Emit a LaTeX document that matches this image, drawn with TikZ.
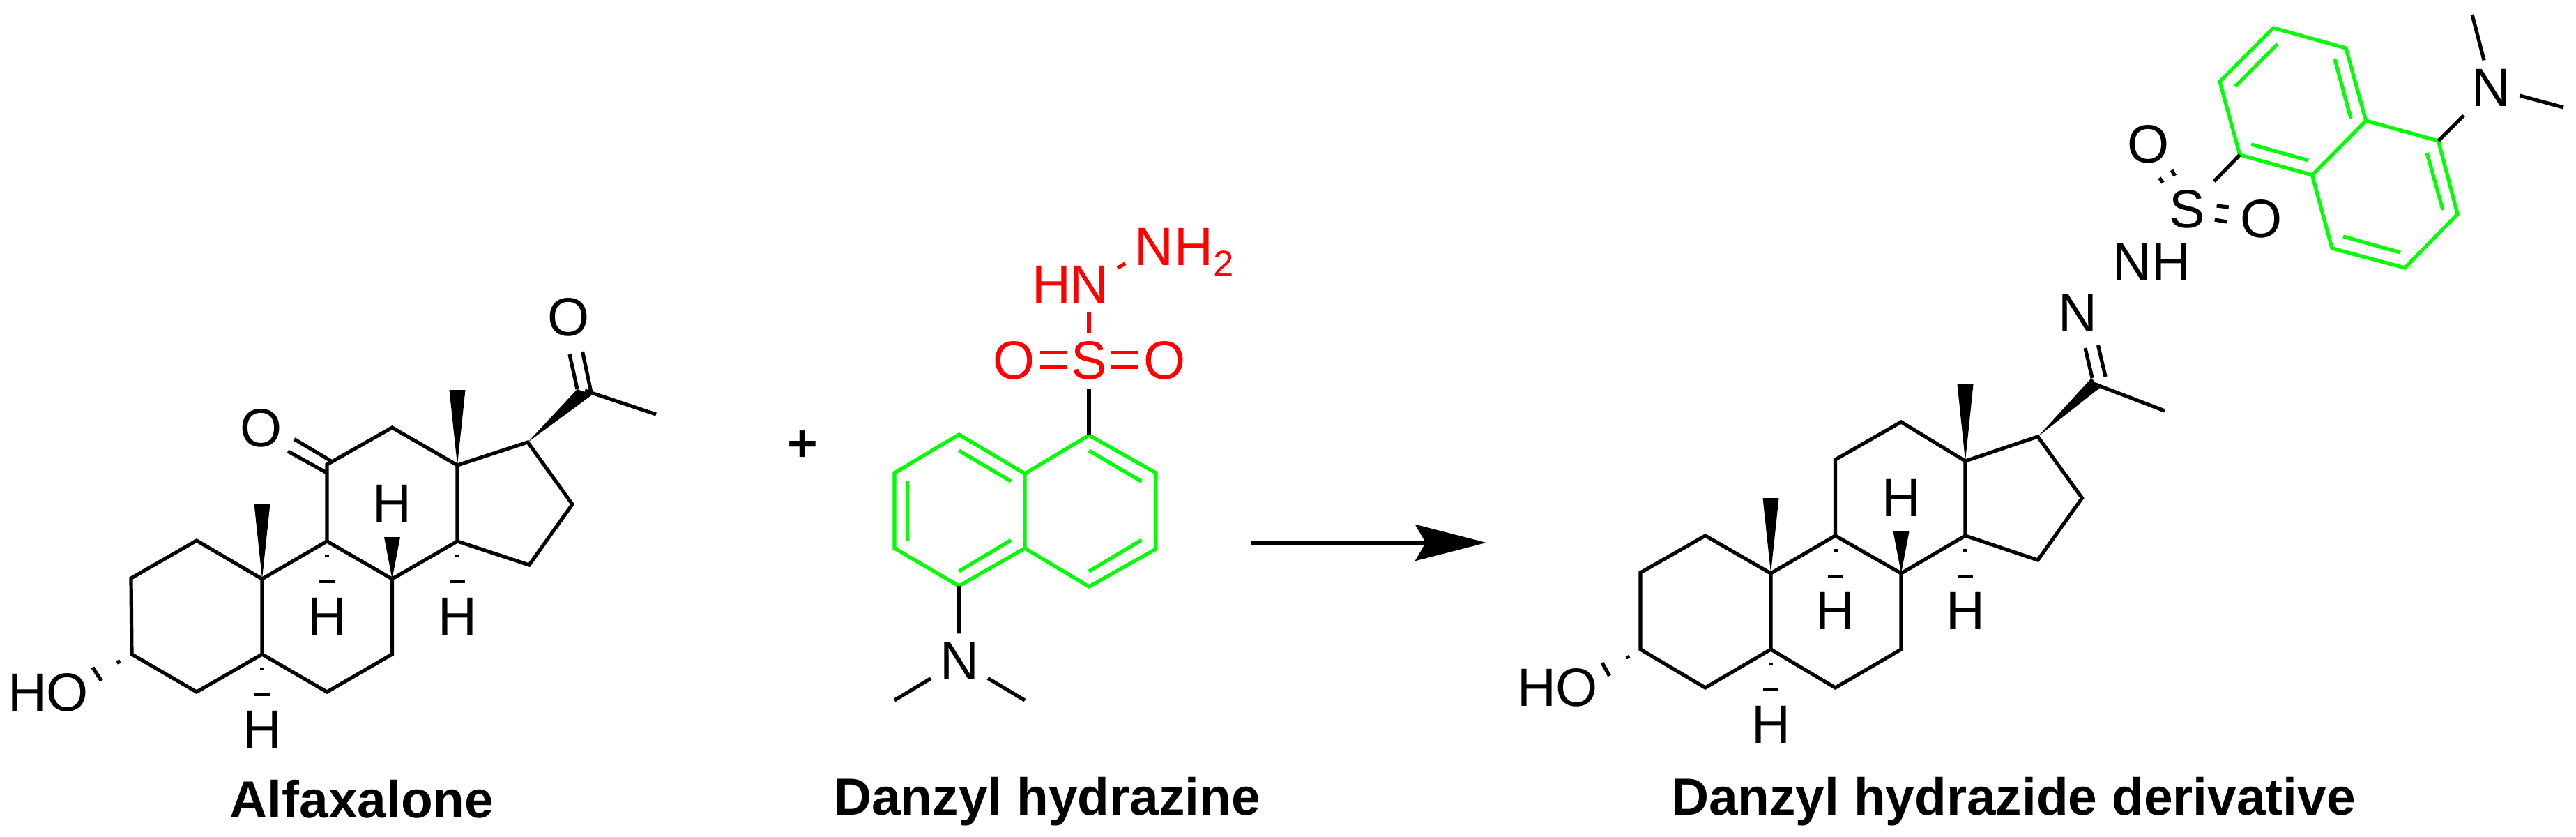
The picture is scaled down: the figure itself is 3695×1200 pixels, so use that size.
\documentclass[tikz,border=0pt]{standalone}
\usepackage{fontspec}
\setmainfont{Liberation Sans}
\usetikzlibrary{arrows.meta,calc}
\definecolor{ringgreen}{RGB}{0,255,0}
\newcommand{\atomfont}{\fontsize{22}{26}\selectfont}
\tikzset{
  bond/.style={line width=0.52mm,line join=miter},
  ringbond/.style={bond,draw=ringgreen},
  redbond/.style={bond,draw=red},
  hashbond/.style={line width=0.45mm},
  atom/.style={inner sep=3.5pt,font=\atomfont},
  redatom/.style={atom,text=red},
  atomtail/.style={inner sep=0pt,font=\atomfont},
  namelabel/.style={inner sep=0pt,anchor=base,font=\fontsize{21.3}{25}\selectfont\bfseries},
  reactionarrow/.style={line width=0.5mm,-{Stealth[length=10.2mm,width=5.2mm,inset=1.5mm]}}
}

\begin{document}
\begin{tikzpicture}[x=0.1mm,y=-0.1mm]
  \useasboundingbox (0,0) rectangle (3695,1200);
  % atoms, reference pixels
  \foreach \name/\px/\py in {
     a1/188/829, a2/282/775, a3/376/830, a4/376/938, a5/282/992, a6/189/938,
     b1/469/776, b2/562.5/830, b3/562.5/938, b4/469/992,
     c1/469/666, c2/562.5/613, c3/656/667, c4/656/776,
     d1/757/634, d2/821/723, d3/759/810, e1/839/560, e2/941/594,
     n1/1375.5/623, n2/1470/679, n3/1562/624, n4/1658/678, n5/1658/787,
     n6/1562/841, n7/1470/786, n8/1375.5/840, n9/1283/786, n10/1283/678,
     m1/1283/1004, m2/1470/1004,
     r1/2353/821, r2/2446/768, r3/2540/822, r4/2540/931, r5/2446/986, r6/2353/931,
     s1/2632.5/768, s2/2727/822, s3/2727/931, s4/2632.5/986,
     t1/2632.5/659, t2/2727/605, t3/2819/661, t4/2819/768,
     u1/2923/626, u2/2986.5/714, u3/2923/803, v1/3005.5/551, v2/3105/589,
     g1/3212.7/222, g2/3316.5/251, g3/3393.6/173, g4/3365/69, g5/3261/40,
     g6/3184/117, g7/3497.5/202, g8/3525/307, g9/3449.5/384, g10/3345/356,
     k1/3546/21, k2/3677/154,
     arrowstart/1794/778, arrowend/2132/778}
     \coordinate (\name) at (\px,\py);

  % labels
  \node[atom] (o1) at (375,614) {O};
  \node[atom] (o2) at (816,455) {O};
  \node[atom] (ho1) at (69,993) {HO};
  \node[atom] (ho2) at (2234,986) {HO};
  \node[redatom] (sa) at (1562,517) {S};
  \node[redatom] (oa) at (1455,517) {O};
  \node[redatom] (ob) at (1671,517) {O};
  \node[redatom] (na) at (1562,408) {N};
  \node[atomtail,text=red,anchor=base east,xshift=4.4pt] (ha) at (na.base west) {H};
  \node[redatom] (nb) at (1655,354) {N};
  \node[atomtail,text=red,anchor=base west,xshift=-3.5pt] (hb) at (nb.base east)
       {H\raisebox{-4.6pt}{\fontsize{15}{15}\selectfont 2}};
  \node[atom] (nc) at (1376,948) {N};
  \node[atom] (nd) at (2980,449) {N};
  \node[atom] (ne) at (3086.5,376) {NH};
  \node[atom] (sb) at (3137,300) {S};
  \node[atom] (oc) at (3082,207) {O};
  \node[atom] (od) at (3243.5,314) {O};
  \node[atom] (nf) at (3573.4,126) {N};

  % steroid skeletons
  \draw[bond] (a1) -- (a2) -- (a3) -- (a4) -- (a5) -- (a6) -- cycle;
  \draw[bond] (a3) -- (b1) -- (b2) -- (b3) -- (b4) -- (a4);
  \draw[bond] (b1) -- (c1) -- (c2) -- (c3) -- (c4) -- (b2);
  \draw[bond] (c3) -- (d1) -- (d2) -- (d3) -- (c4);
  \draw[bond] (e1) -- (e2);
  \draw[bond] (r1) -- (r2) -- (r3) -- (r4) -- (r5) -- (r6) -- cycle;
  \draw[bond] (r3) -- (s1) -- (s2) -- (s3) -- (s4) -- (r4);
  \draw[bond] (s1) -- (t1) -- (t2) -- (t3) -- (t4) -- (s2);
  \draw[bond] (t3) -- (u1) -- (u2) -- (u3) -- (t4);
  \draw[bond] (v1) -- (v2);

  % wedges
  \foreach \atom/\len in {a3/108,c3/108,b2/60,r3/108,t3/110,s2/60}
    \fill (\atom) -- ($(\atom)+(-11.5,-\len)$) -- ($(\atom)+(11.5,-\len)$) -- cycle;
  \fill (d1) -- (828,558) -- (849.5,566) -- cycle;
  \fill (u1) -- (3000,542) -- (3012,556) -- cycle;

  % ring hydrogens
  \foreach \atom/\hname in {a4/h1,b1/h2,c4/h3,r4/h4,s1/h5,t4/h6} {
    \draw[hashbond] ($(\atom)+(-3,21)$) -- ($(\atom)+(3,21)$);
    \draw[hashbond] ($(\atom)+(-11,58)$) -- ($(\atom)+(11,58)$);
    \node[atom] (\hname) at ($(\atom)+(0,108)$) {H};
  }
  \node[atom] (h7) at ($(b2)+(0,-108)$) {H};
  \node[atom] (h8) at ($(s2)+(0,-108)$) {H};

  % double bonds and stray hash marks
  \foreach \ax/\ay/\bx/\by in {
     422/629.5/475/661, 413/647/469/678, 828/558/817/508, 848/563/835.5/504,
     2991/499/3001/542, 3009.5/495/3020/540,
     169/946.5/171/951.6, 133/957/145.4/976,
     2334/940/2336/944, 2298/950/2308.5/969,
     3097.4/255/3102.5/262, 3115/244/3119.6/252,
     3179.6/295/3196.7/297, 3176.7/315/3193.8/318}
    \draw[bond] (\ax,\ay) -- (\bx,\by);

  % danzyl groups
  \draw[ringbond] (n1) -- (n2) -- (n7) -- (n8) -- (n9) -- (n10) -- cycle;
  \draw[ringbond] (n2) -- (n3) -- (n4) -- (n5) -- (n6) -- (n7);
  \draw[ringbond] (g1) -- (g2) -- (g3) -- (g4) -- (g5) -- (g6) -- cycle;
  \draw[ringbond] (g3) -- (g7) -- (g8) -- (g9) -- (g10) -- (g2);
  \foreach \ax/\ay/\bx/\by in {
     1375.5/646/1450/690, 1562/646/1637/690, 1301.5/689/1301.5/776,
     1450/774.5/1375.5/819, 1637/774.5/1562/819,
     3267/63/3206/124, 3349/85/3372/170, 3229/207/3311/230,
     3481/219/3504/301, 3361/339/3443/362}
    \draw[ringbond] (\ax,\ay) -- (\bx,\by);

  \path[bond] (sa) edge[draw] (n3)
              (nc) edge[draw] (n8)
              (nc) edge[draw] (m1)
              (nc) edge[draw] (m2)
              (sb) edge[draw] (g1)
              (nf) edge[draw] (g7)
              (nf) edge[draw] (k1)
              (nf) edge[draw] (k2);
  \path[redbond] (sa) edge[draw] (na)
                 (na) edge[draw] (nb);
  \foreach \ax/\bx in {1492/1530,1594/1632} {
    \draw[redbond] (\ax,505.6) -- (\bx,505.6);
    \draw[redbond] (\ax,526) -- (\bx,526);
  }

  % plus, arrow, names
  \node[namelabel,anchor=center] (plus) at (1151,640) {+};
  \draw[reactionarrow] (arrowstart) -- (arrowend);
  \node[namelabel] (alfa) at (519,1172) {Alfaxalone};
  \node[namelabel] (hydrazine) at (1502,1168) {Danzyl hydrazine};
  \node[namelabel] (derivative) at (2888,1168) {Danzyl hydrazide derivative};
\end{tikzpicture}
\end{document}
